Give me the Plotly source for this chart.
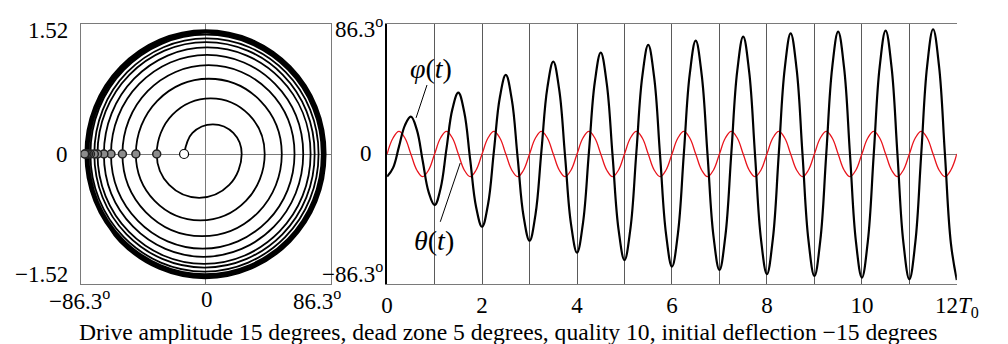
import numpy as np
import plotly.graph_objects as go

# ---------------- data ----------------
# time in drive periods T0, sampled every 1/8 period
t_periods = np.linspace(0, 12, 97)

# pendulum deflection phi(t), degrees
phi_deg = [
    -15.0, -9.2, 4.9, 19.0,     24.8, 16.2, -4.6, -25.3,
    -33.9, -23.0, 3.4, 29.8,    40.7, 27.7, -3.8, -35.3,
    -48.3, -33.5, 2.1, 37.7,    52.5, 36.4, -2.6, -41.5,
    -57.6, -40.2, 1.9, 43.9,    61.3, 42.7, -2.1, -46.9,
    -65.5, -46.0, 0.9, 47.8,    67.3, 47.1, -1.6, -50.2,
    -70.4, -49.5, 1.0, 51.5,    72.4, 50.8, -1.2, -53.2,
    -74.8, -52.8, 0.2, 53.2,    75.2, 52.9, -0.9, -54.7,
    -77.0, -54.3, 0.5, 55.2,    77.9, 54.8, -0.9, -56.6,
    -79.7, -56.3, 0.2, 56.7,    80.1, 56.5, -0.5, -57.4,
    -81.0, -57.2, 0.1, 57.4,    81.2, 57.3, -0.5, -58.2,
    -82.1, -58.1, -0.1, 57.9,   81.9, 57.7, -0.7, -59.0,
    -83.2, -58.9, -0.2, 58.5,   82.8, 58.4, -0.5, -59.3,
    -83.7,
]

# normalised angular velocity (phase-portrait vertical axis)
velocity = [
    0, 0.246, 0.347, 0.246,     0, -0.362, -0.512, -0.362,
    0, 0.460, 0.651, 0.460,     0, -0.549, -0.777, -0.549,
    0, 0.622, 0.880, 0.622,     0, -0.679, -0.961, -0.679,
    0, 0.734, 1.038, 0.734,     0, -0.782, -1.107, -0.782,
    0, 0.819, 1.159, 0.819,     0, -0.850, -1.202, -0.850,
    0, 0.881, 1.246, 0.881,     0, -0.908, -1.285, -0.908,
    0, 0.926, 1.309, 0.926,     0, -0.939, -1.328, -0.939,
    0, 0.956, 1.352, 0.956,     0, -0.972, -1.375, -0.972,
    0, 0.986, 1.395, 0.986,     0, -0.994, -1.406, -0.994,
    0, 1.001, 1.416, 1.001,     0, -1.008, -1.425, -1.008,
    0, 1.012, 1.431, 1.012,     0, -1.019, -1.441, -1.019,
    0, 1.024, 1.449, 1.024,     0, -1.027, -1.453, -1.027,
    0,
]

# drive theta(t), degrees
theta_deg = [
    0, 10.6, 15, 10.6, 0, -10.6, -15, -10.6,
    0, 10.6, 15, 10.6, 0, -10.6, -15, -10.6,
    0, 10.6, 15, 10.6, 0, -10.6, -15, -10.6,
    0, 10.6, 15, 10.6, 0, -10.6, -15, -10.6,
    0, 10.6, 15, 10.6, 0, -10.6, -15, -10.6,
    0, 10.6, 15, 10.6, 0, -10.6, -15, -10.6,
    0, 10.6, 15, 10.6, 0, -10.6, -15, -10.6,
    0, 10.6, 15, 10.6, 0, -10.6, -15, -10.6,
    0, 10.6, 15, 10.6, 0, -10.6, -15, -10.6,
    0, 10.6, 15, 10.6, 0, -10.6, -15, -10.6,
    0, 10.6, 15, 10.6, 0, -10.6, -15, -10.6,
    0, 10.6, 15, 10.6, 0, -10.6, -15, -10.6,
    0,
]

phi_limit = 86.3
vel_limit = 1.52
time_ticks = [0, 2, 4, 6, 8, 10, 12]
time_ticktext = ["0", "2", "4", "6", "8", "10", "12<i>T</i><sub>0</sub>"]
caption = "Drive amplitude 15 degrees, dead zone 5 degrees, quality 10, initial deflection \u221215 degrees"

# ---------------- figure ----------------
W, H = 1008, 344
GRAY = "#7a7a7a"
GRID = "#5a5a5a"
FONT = "Liberation Serif"
SMOOTH = 1.13
TICK = 23

def px_x(p):
    return p / W

def px_y(p):
    return 1 - p / H

fig = go.Figure()

# phase portrait
fig.add_trace(go.Scatter(x=phi_deg, y=velocity, mode="lines",
                         line=dict(color="black", width=1.8, shape="spline", smoothing=SMOOTH),
                         xaxis="x", yaxis="y", showlegend=False, hoverinfo="skip"))
fig.add_trace(go.Scatter(x=phi_deg[8::8], y=velocity[8::8], mode="markers",
                         marker=dict(size=8, color="#8c8c8c", line=dict(color="#222", width=1.5)),
                         xaxis="x", yaxis="y", showlegend=False, hoverinfo="skip"))
fig.add_trace(go.Scatter(x=phi_deg[:1], y=velocity[:1], mode="markers",
                         marker=dict(size=9, color="white", line=dict(color="black", width=1.2)),
                         xaxis="x", yaxis="y", showlegend=False, hoverinfo="skip"))

# time series
fig.add_trace(go.Scatter(x=t_periods, y=theta_deg, mode="lines",
                         line=dict(color="#e8141c", width=1.3, shape="spline", smoothing=SMOOTH),
                         xaxis="x2", yaxis="y2", showlegend=False, hoverinfo="skip"))
fig.add_trace(go.Scatter(x=t_periods, y=phi_deg, mode="lines",
                         line=dict(color="black", width=2.2, shape="spline", smoothing=SMOOTH),
                         xaxis="x2", yaxis="y2", showlegend=False, hoverinfo="skip"))

ydom = [px_y(284), px_y(24)]
fig.update_layout(
    width=W, height=H,
    margin=dict(l=0, r=0, t=0, b=0),
    paper_bgcolor="white", plot_bgcolor="white",
    font=dict(family=FONT, size=TICK, color="black"),
    xaxis=dict(domain=[px_x(77), px_x(334)], range=[-phi_limit, phi_limit],
               showgrid=False, zeroline=True, zerolinecolor=GRAY, zerolinewidth=1.2,
               showline=True, mirror=True, linecolor=GRAY, linewidth=1.2,
               showticklabels=False, ticks="", anchor="y"),
    yaxis=dict(domain=ydom, range=[-vel_limit, vel_limit],
               showgrid=False, zeroline=True, zerolinecolor=GRAY, zerolinewidth=1.2,
               showline=True, mirror=True, linecolor=GRAY, linewidth=1.2,
               showticklabels=False, ticks="", anchor="x"),
    xaxis2=dict(domain=[px_x(392), px_x(978)], range=[0, 12],
                tickvals=time_ticks, ticktext=time_ticktext, ticks="",
                showgrid=True, gridcolor=GRID, gridwidth=1,
                minor=dict(dtick=1, tick0=0, showgrid=True, gridcolor=GRID, gridwidth=1, ticks=""),
                zeroline=False, showline=True, mirror=True, linecolor=GRAY, linewidth=1.2,
                tickfont=dict(family=FONT, size=TICK), ticklabelstandoff=0, anchor="y2"),
    yaxis2=dict(domain=ydom, range=[-phi_limit, phi_limit],
                showgrid=False, zeroline=True, zerolinecolor=GRAY, zerolinewidth=1.2,
                showline=True, mirror=False, linecolor="black", linewidth=1.5,
                showticklabels=False, ticks="", anchor="x2"),
)

def label(text, x, y, xanchor="center", size=TICK):
    fig.add_annotation(text=text, x=px_x(x), y=px_y(y), xref="paper", yref="paper",
                       xanchor=xanchor, yanchor="middle", showarrow=False,
                       font=dict(family=FONT, size=size, color="black"))

# left panel labels
label("1.52", 66, 31, "right")
label("0", 66, 154, "right")
label("\u22121.52", 66, 274, "right")
label("\u221286.3<sup>o</sup>", 76, 299)
label("0", 207, 299)
label("86.3<sup>o</sup>", 320, 299)
# right panel y labels
label("86.3<sup>o</sup>", 390, 27, "right")
label("0", 379, 153, "right")
label("\u221286.3<sup>o</sup>", 390, 272, "right")
# caption
label(caption, 516, 331.5, size=23.6)

# curve labels with leaders
label("<i>\u03c6</i>(<i>t</i>)", 437, 68, size=28)
label("<i>\u03b8</i>(<i>t</i>)", 440, 240, size=28)
fig.add_shape(type="line", xref="x2", yref="y2", x0=0.84, y0=45.8, x1=0.61, y1=24.0,
              line=dict(color="black", width=1))
fig.add_shape(type="line", xref="x2", yref="y2", x0=1.12, y0=-45.0, x1=1.54, y1=-6.0,
              line=dict(color="black", width=1))

fig.write_html(
    "out.html",
    config={"displayModeBar": False, "responsive": False},
    post_script=(
        "document.body.style.margin='0px';"
        "document.body.style.overflow='hidden';"
        "document.documentElement.style.overflow='hidden';"
    ),
)
